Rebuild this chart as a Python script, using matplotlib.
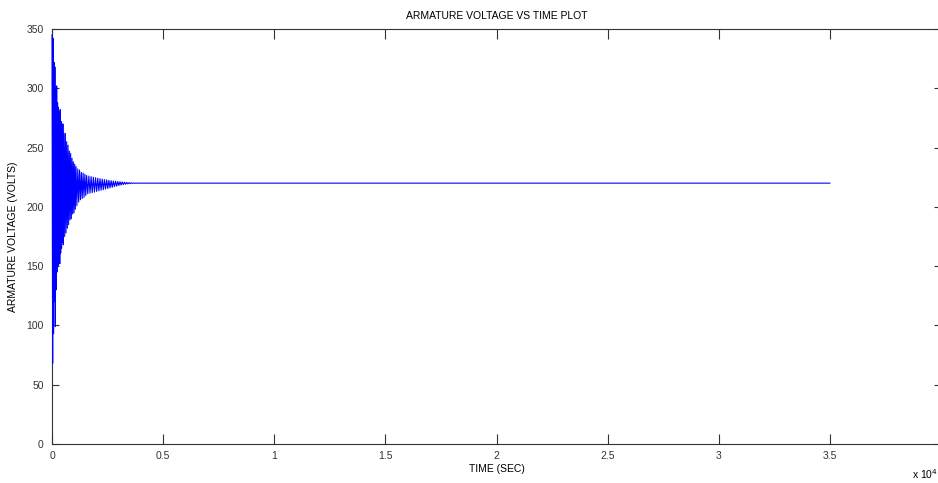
import matplotlib
matplotlib.use("Agg")
import matplotlib.pyplot as plt

plt.rcParams['font.family'] = ['Liberation Sans', 'DejaVu Sans']

# armature voltage swings (time in units of 1e4 s)
t_swing = [0.000, 0.003, 0.005, 0.007, 0.009, 0.011, 0.013, 0.015, 0.017, 0.019,
           0.021, 0.023, 0.025, 0.027, 0.029, 0.031, 0.033, 0.035, 0.037, 0.039,
           0.041, 0.043, 0.045, 0.047, 0.049, 0.051, 0.054, 0.057, 0.060, 0.063,
           0.066, 0.069, 0.072, 0.075, 0.078, 0.081, 0.084, 0.087, 0.090, 0.093,
           0.096, 0.099, 0.102, 0.105, 0.108, 0.112, 0.116, 0.120, 0.124, 0.128,
           0.132, 0.136, 0.140, 0.144, 0.148, 0.152,
           0.156, 0.161, 0.166, 0.171, 0.176, 0.181, 0.186, 0.191, 0.196, 0.201,
           0.206, 0.211, 0.216, 0.221, 0.226, 0.231, 0.236, 0.241, 0.246, 0.251,
           0.256, 0.261, 0.266, 0.271, 0.276, 0.281, 0.286, 0.291, 0.296, 0.301,
           0.306, 0.311, 0.316, 0.321, 0.326, 0.331, 0.336, 0.341, 0.346, 0.351,
           0.356, 0.361, 0.366, 0.371, 0.376, 3.5]
v_swing = [345, 68, 342, 93, 322, 120, 318, 99, 300, 130,
           302, 145, 288, 150, 284, 158, 280, 152, 282, 161,
           272, 165, 268, 170, 270, 168, 262, 175, 262, 178,
           255, 182, 252, 185, 247, 189, 245, 190, 241, 194,
           238, 195, 236, 198, 234, 201, 232, 204, 231, 206,
           229, 207, 228.5, 208, 227.5, 209.5,
           226.5, 211, 226, 211.5, 225.5, 212, 225, 212.5, 224.6, 213,
           224.2, 213.5, 223.8, 214, 223.4, 214.5, 223, 215, 222.7, 215.5,
           222.4, 216, 222.1, 216.5, 221.8, 217, 221.6, 217.5, 221.4, 218,
           221.2, 218.4, 221, 218.8, 220.8, 219.1, 220.6, 219.4, 220.4, 219.6,
           220.3, 219.8, 220.1, 219.9, 220, 220]

x_ticks = [0, 0.5, 1, 1.5, 2, 2.5, 3, 3.5]
x_tick_labels = ['0', '0.5', '1', '1.5', '2', '2.5', '3', '3.5']
y_ticks = [0, 50, 100, 150, 200, 250, 300, 350]

fig = plt.figure(figsize=(9.38, 4.83), dpi=100)
ax = fig.add_axes([52/938, 39/483, 889/938, 415/483])

ax.plot(t_swing, v_swing, color=(0, 0, 1), lw=0.8, zorder=3, clip_on=False)

ax.set_xlim(0, 4)
ax.set_ylim(0, 350)
ax.set_xticks(x_ticks)
ax.set_xticklabels(x_tick_labels)
ax.set_yticks(y_ticks)
ax.tick_params(direction='in', top=True, right=True, labelsize=7.5,
               colors='#333333', width=0.8)
ax.tick_params(axis='x', length=7, pad=5)
ax.tick_params(axis='y', length=5, pad=6)
for s in ax.spines.values():
    s.set_color('#333333')
    s.set_linewidth(0.8)
    s.set_zorder(2)

ax.set_title('ARMATURE VOLTAGE VS TIME PLOT', fontsize=7.5, pad=7)
ax.set_xlabel('TIME (SEC)', fontsize=7.5, labelpad=2)
ax.set_ylabel('ARMATURE VOLTAGE (VOLTS)', fontsize=7.5, labelpad=6)
fig.text(912/938, 2/483, 'x 10$^4$', fontsize=7.5, ha='left', va='bottom')

fig.savefig('out.png', dpi=100)
